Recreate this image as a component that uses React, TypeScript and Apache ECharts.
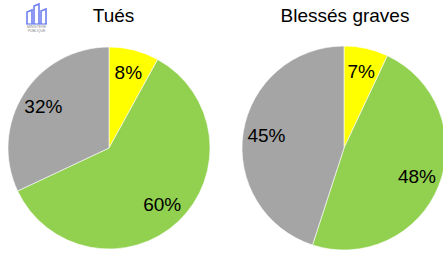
import React, { useEffect, useRef } from "react";
import * as echarts from "echarts";

const categories = ["Jaune", "Vert", "Gris"];
const tuesValues = [8, 60, 32];
const blessesValues = [7, 48, 45];
const pieTitles = ["Tués", "Blessés graves"];
const colors = ["#FFFF00", "#92D050", "#A5A5A5"];

export default function App() {
  const ref = useRef<HTMLDivElement>(null);
  useEffect(() => {
    if (!ref.current) return;
    const chart = echarts.init(ref.current, null, { renderer: "svg" });
    const font = "'Liberation Sans', Arial, sans-serif";
    const mk = (vals: number[]) =>
      vals.map((v, i) => ({ name: categories[i], value: v, itemStyle: { color: colors[i] } }));
    const pies = [
      { vals: tuesValues, center: [109, 148], r: 101 },
      { vals: blessesValues, center: [344, 148], r: 102 },
    ];
    const series: any[] = [];
    pies.forEach((p) => {
      series.push({
        type: "pie",
        center: p.center,
        radius: [0, p.r],
        startAngle: 90,
        clockwise: true,
        silent: true,
        label: { show: false },
        labelLine: { show: false },
        itemStyle: { borderColor: "#ffffff", borderWidth: 0.6 },
        data: mk(p.vals),
      });
      series.push({
        type: "pie",
        center: p.center,
        radius: [p.r * 0.48, p.r],
        startAngle: 90,
        clockwise: true,
        silent: true,
        itemStyle: { color: "transparent", borderWidth: 0 },
        label: {
          show: true,
          position: "inside",
          formatter: "{c}%",
          color: "#000",
          fontSize: 19,
          fontFamily: font,
        },
        labelLine: { show: false },
        data: p.vals.map((v, i) => ({ name: categories[i], value: v, itemStyle: { color: "transparent" } })),
      });
    });
    const blue = "#6f7ff2";
    chart.setOption({
      animation: false,
      backgroundColor: "#ffffff",
      series,
      graphic: [
        {
          type: "text",
          x: 113.5,
          y: 15.5,
          style: { text: pieTitles[0], fontSize: 19, fontFamily: font, fill: "#000", align: "center", verticalAlign: "middle" },
        },
        {
          type: "text",
          x: 345,
          y: 15.5,
          style: { text: pieTitles[1], fontSize: 19, fontFamily: font, fill: "#000", align: "center", verticalAlign: "middle" },
        },
        {
          type: "polyline",
          shape: { points: [[27, 24], [27, 12], [32, 10], [32, 24]] },
          style: { stroke: blue, lineWidth: 1.6, fill: "none" },
        },
        {
          type: "polyline",
          shape: { points: [[34, 24], [34, 6], [39, 4], [39, 24]] },
          style: { stroke: blue, lineWidth: 1.6, fill: "none" },
        },
        {
          type: "polyline",
          shape: { points: [[41, 24], [41, 11], [46, 9], [46, 24]] },
          style: { stroke: blue, lineWidth: 1.6, fill: "none" },
        },
        {
          type: "line",
          shape: { x1: 26, y1: 24, x2: 47, y2: 24 },
          style: { stroke: blue, lineWidth: 1.2 },
        },
        {
          type: "text",
          x: 36.5,
          y: 26.5,
          style: { text: "MINISTÈRE", fontSize: 3.5, fontFamily: font, fill: "#888", align: "center", verticalAlign: "middle" },
        },
        {
          type: "text",
          x: 36.5,
          y: 30.5,
          style: { text: "PUBLIQUE", fontSize: 3.5, fontFamily: font, fill: "#888", align: "center", verticalAlign: "middle" },
        },
      ],
    });
    return () => chart.dispose();
  }, []);
  return (
    <div
      ref={ref}
      style={{ position: "fixed", left: 0, top: 0, width: 443, height: 253 }}
    />
  );
}
